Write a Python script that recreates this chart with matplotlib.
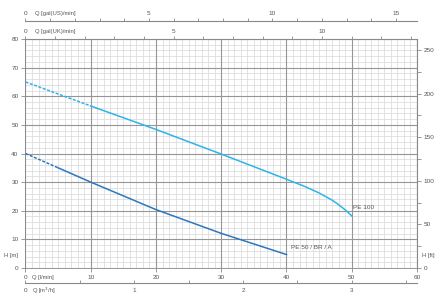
import numpy as np
import matplotlib
matplotlib.use("Agg")
import matplotlib.pyplot as plt
from matplotlib.ticker import MultipleLocator, FixedLocator
import matplotlib.transforms as mtrans

plt.rcParams["font.family"] = ["Liberation Sans", "DejaVu Sans"]

# curves: Q [l/min], H [m]
pe100_q_ext = [0, 10]
pe100_h_ext = [65, 56.6]
pe100_q = [10, 20, 30, 40, 43, 45, 47, 48, 49, 50]
pe100_h = [56.6, 48.4, 39.8, 31.0, 28.3, 26.2, 23.7, 22.1, 20.3, 18.2]

pe50_q_ext = [0, 5]
pe50_h_ext = [40, 35]
pe50_q = [5, 10, 20, 30, 40]
pe50_h = [35, 30, 20.4, 12.1, 4.7]

LIGHT = "#2db4e8"
DARK = "#2b77c0"
TXT = "#555555"
TICKC = "#888888"
FS = 4.6
FS_NAME = 4.2

L_PER_UK = 4.54609
L_PER_US = 3.78541
L_PER_M3H = 1000 / 60
FT = 0.3048

fig = plt.figure(figsize=(4.39, 3.0), dpi=100)
rect = [25.5 / 439, 32 / 300, (417 - 25.5) / 439, (268 - 39) / 300]

# background axes only for the fine grid
bg = fig.add_axes(rect, zorder=0)
bg.set_xlim(0, 60)
bg.set_ylim(0, 80)
bg.xaxis.set_major_locator(MultipleLocator(1))
bg.yaxis.set_major_locator(MultipleLocator(2))
bg.grid(color="#d8d8d8", linewidth=0.5)
bg.tick_params(length=0, labelbottom=False, labelleft=False)
for s in bg.spines.values():
    s.set_visible(False)

ax = fig.add_axes(rect, zorder=1)
ax.patch.set_alpha(0)
ax.set_xlim(0, 60)
ax.set_ylim(0, 80)
ax.xaxis.set_major_locator(MultipleLocator(10))
ax.yaxis.set_major_locator(MultipleLocator(10))
ax.grid(color="#969696", linewidth=0.8)
ax.tick_params(which="major", length=3, width=0.6, color=TICKC,
               labelsize=FS, labelcolor=TXT, pad=2)
for s in ax.spines.values():
    s.set_color(TICKC)
    s.set_linewidth(0.6)

# curves
ax.plot(pe100_q_ext, pe100_h_ext, color=LIGHT, lw=1.1, ls=(0, (2, 1)))
ax.plot(pe100_q, pe100_h, color=LIGHT, lw=1.1)
ax.plot(pe50_q_ext, pe50_h_ext, color=DARK, lw=1.1, ls=(0, (2, 1)))
ax.plot(pe50_q, pe50_h, color=DARK, lw=1.1)
ax.text(50.2, 21, "PE 100", fontsize=FS, color=TXT, ha="left", va="center")
ax.text(40.7, 7, "PE 50 / BR / A", fontsize=FS, color=TXT, ha="left", va="center")

# top: gal(UK)/min on the frame, gal(US)/min above it
uk = ax.secondary_xaxis("top", functions=(lambda x: x / L_PER_UK, lambda x: x * L_PER_UK))
uk.xaxis.set_major_locator(FixedLocator([0, 5, 10]))
uk.xaxis.set_minor_locator(MultipleLocator(1))
uk.tick_params(which="both", length=2.5, width=0.6, color=TICKC,
               labelsize=FS, labelcolor=TXT, pad=0.8)
uk.spines["top"].set_color(TICKC)

us = ax.secondary_xaxis(1 + 18 / 229, functions=(lambda x: x / L_PER_US, lambda x: x * L_PER_US))
us.xaxis.set_major_locator(FixedLocator([0, 5, 10, 15]))
us.xaxis.set_minor_locator(MultipleLocator(1))
us.tick_params(which="both", length=2.5, width=0.6, color=TICKC,
               labelsize=FS, labelcolor=TXT, pad=0.8)
us.spines["top"].set_color(TICKC)

# bottom: m3/h below the l/min axis
m3 = ax.secondary_xaxis(-15 / 229, functions=(lambda x: x / L_PER_M3H, lambda x: x * L_PER_M3H))
m3.xaxis.set_major_locator(FixedLocator([0, 1, 2, 3]))
m3.xaxis.set_minor_locator(MultipleLocator(0.5))
m3.tick_params(which="both", direction="in", length=2.5, width=0.6, color=TICKC,
               labelsize=FS, labelcolor=TXT, pad=3.5)
m3.spines["bottom"].set_color(TICKC)

# right: feet
ft = ax.secondary_yaxis("right", functions=(lambda y: y / FT, lambda y: y * FT))
ft.yaxis.set_major_locator(FixedLocator([0, 50, 100, 150, 200, 250]))
ft.yaxis.set_minor_locator(MultipleLocator(25))
ft.tick_params(which="both", length=3, width=0.6, color=TICKC,
               labelsize=FS, labelcolor=TXT, pad=1.5)
ft.spines["right"].set_color(TICKC)

# axis names
tr = mtrans.blended_transform_factory(ax.transAxes, ax.transData)
ax.text(-21.5 / 391.5, 4.5, "H [m]", transform=tr, fontsize=FS_NAME, color=TXT, ha="left", va="center")
ax.text(1 + 5 / 391.5, 4.5, "H [ft]", transform=tr, fontsize=FS_NAME, color=TXT, ha="left", va="center")
ax.text(1.0, -9 / 229 * 80, "Q [l/min]", fontsize=FS_NAME, color=TXT, ha="left", va="center")
ax.text(1.0, -23 / 229 * 80, "Q [m$^3$/h]", fontsize=FS_NAME, color=TXT, ha="left", va="center")
ax.text(1.5, 80 + 7.5 / 229 * 80, "Q [gal(UK)/min]", fontsize=FS_NAME, color=TXT, ha="left", va="center")
ax.text(1.5, 80 + 25 / 229 * 80, "Q [gal(US)/min]", fontsize=FS_NAME, color=TXT, ha="left", va="center")

fig.savefig("out.png", dpi=100)
